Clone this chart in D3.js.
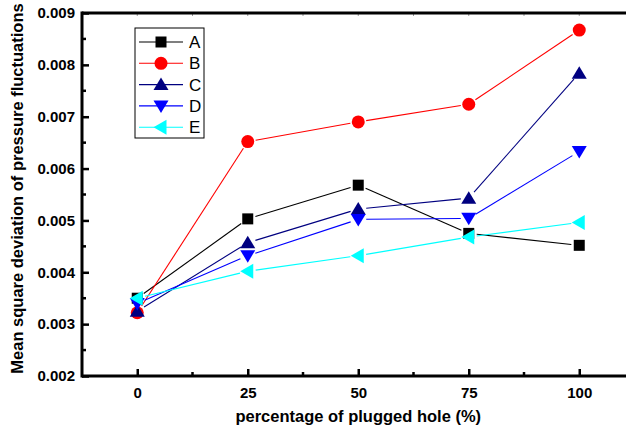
<!DOCTYPE html>
<html>
<head>
<meta charset="utf-8">
<script src="https://cdn.jsdelivr.net/npm/d3@7"></script>
<style>
  body { margin: 0; background: #fff; }
  svg text { font-family: Arial, "Liberation Sans", sans-serif; }
</style>
</head>
<body>
<svg id="chart" width="626" height="429"></svg>
<script>
// data
var xValues = [0, 25, 50, 75, 100];
var seriesNames = ["A", "B", "C", "D", "E"];
var valuesA = [0.00350, 0.00503, 0.00568, 0.00475, 0.00452];
var valuesB = [0.00322, 0.00652, 0.00690, 0.00724, 0.00867];
var valuesC = [0.00325, 0.00457, 0.00522, 0.00543, 0.00784];
var valuesD = [0.00340, 0.00432, 0.00502, 0.00504, 0.00633];
var valuesE = [0.00350, 0.00402, 0.00432, 0.00468, 0.00496];
var yTicks = [0.002, 0.003, 0.004, 0.005, 0.006, 0.007, 0.008, 0.009];

var colors = ["#000000", "#ff0000", "#000080", "#0000ff", "#00ffff"];
var shapes = ["square", "circle", "up", "down", "left"];
var allValues = [valuesA, valuesB, valuesC, valuesD, valuesE];

var svg = d3.select("#chart");
var plotLeft = 82, plotTop = 13, plotBottom = 376;

var x = d3.scaleLinear().domain([-12.5, 112.5]).range([plotLeft, plotLeft + 552.5]);
var y = d3.scaleLinear().domain([0.002, 0.009]).range([plotBottom, plotTop]);

// marker path centred on 0,0
function marker(shape) {
    if (shape == "square") return "M-5.5,-5.5h11v11h-11z";
    if (shape == "circle") return "M-6.5,0a6.5,6.5 0 1,0 13,0a6.5,6.5 0 1,0 -13,0z";
    if (shape == "up") return "M0,-7L7.5,5.5L-7.5,5.5z";
    if (shape == "down") return "M0,7L7.5,-5.5L-7.5,-5.5z";
    return "M-7.5,0L5.5,-7.5L5.5,7.5z"; // left
}

// series: lines with small gaps at the markers, then markers
allValues.forEach(function (vals, s) {
    var g = svg.append("g");
    var pts = vals.map(function (v, i) { return [x(xValues[i]), y(v)]; });
    for (var i = 0; i < pts.length - 1; i++) {
        var a = pts[i], b = pts[i + 1];
        var dx = b[0] - a[0], dy = b[1] - a[1];
        var len = Math.sqrt(dx * dx + dy * dy);
        var gap = 8;
        g.append("line")
            .attr("x1", a[0] + dx / len * gap).attr("y1", a[1] + dy / len * gap)
            .attr("x2", b[0] - dx / len * gap).attr("y2", b[1] - dy / len * gap)
            .attr("stroke", colors[s]).attr("stroke-width", 1.1);
    }
});
allValues.forEach(function (vals, s) {
    svg.append("g").selectAll("path")
        .data(vals)
        .enter()
        .append("path")
        .attr("d", marker(shapes[s]))
        .attr("transform", function (d, i) { return "translate(" + x(xValues[i]) + "," + y(d) + ")"; })
        .attr("fill", colors[s]);
});

// axes
var yAxis = d3.axisLeft(y).tickValues(yTicks).tickFormat(d3.format(".3f")).tickSize(-7).tickPadding(7);
var gy = svg.append("g").attr("transform", "translate(" + plotLeft + ",0)").call(yAxis);
gy.select(".domain").remove();
gy.selectAll(".tick line").attr("stroke-width", 2.5);
gy.selectAll("text").attr("font-size", 15).attr("font-weight", "bold").attr("fill", "#000");

var yMinor = d3.range(0.0025, 0.009, 0.001);
svg.append("g").selectAll("line").data(yMinor).enter().append("line")
    .attr("x1", plotLeft).attr("x2", plotLeft + 4)
    .attr("y1", function (d) { return y(d); }).attr("y2", function (d) { return y(d); })
    .attr("stroke", "#000").attr("stroke-width", 2.5);

var xAxis = d3.axisBottom(x).tickValues(xValues).tickSize(-7).tickPadding(11);
var gx = svg.append("g").attr("transform", "translate(0," + plotBottom + ")").call(xAxis);
gx.select(".domain").remove();
gx.selectAll(".tick line").attr("stroke-width", 2.5);
gx.selectAll("text").attr("font-size", 15).attr("font-weight", "bold").attr("fill", "#000");

var xMinor = [12.5, 37.5, 62.5, 87.5];
svg.append("g").selectAll("line").data(xMinor).enter().append("line")
    .attr("x1", function (d) { return x(d); }).attr("x2", function (d) { return x(d); })
    .attr("y1", plotBottom).attr("y2", plotBottom - 4)
    .attr("stroke", "#000").attr("stroke-width", 2.5);

// top ticks (faint)
svg.append("g").selectAll("line").data(xValues.concat(xMinor)).enter().append("line")
    .attr("x1", function (d) { return x(d); }).attr("x2", function (d) { return x(d); })
    .attr("y1", plotTop).attr("y2", plotTop + 3)
    .attr("stroke", "#999").attr("stroke-width", 1);

// frame lines
svg.append("line").attr("x1", plotLeft).attr("x2", plotLeft).attr("y1", plotTop - 1.5).attr("y2", plotBottom + 1.5)
    .attr("stroke", "#000").attr("stroke-width", 3);
svg.append("line").attr("x1", plotLeft).attr("x2", 640).attr("y1", plotBottom).attr("y2", plotBottom)
    .attr("stroke", "#000").attr("stroke-width", 3);
svg.append("line").attr("x1", plotLeft).attr("x2", 640).attr("y1", plotTop).attr("y2", plotTop)
    .attr("stroke", "#000").attr("stroke-width", 3);

// axis titles
svg.append("text")
    .attr("transform", "translate(23," + ((plotTop + plotBottom) / 2 - 6) + ")rotate(-90)")
    .attr("text-anchor", "middle")
    .attr("font-size", 16.5).attr("font-weight", "bold")
    .text("Mean square deviation of pressure fluctuations");
svg.append("text")
    .attr("x", x(50)).attr("y", 422)
    .attr("text-anchor", "middle")
    .attr("font-size", 16.5).attr("font-weight", "bold")
    .text("percentage of plugged hole (%)");

// legend
var legend = svg.append("g").attr("transform", "translate(135,28)");
legend.append("rect").attr("width", 69).attr("height", 110)
    .attr("fill", "#fff").attr("stroke", "#000").attr("stroke-width", 1);
seriesNames.forEach(function (name, i) {
    var ly = 14 + i * 21.3;
    legend.append("line").attr("x1", 4).attr("x2", 48).attr("y1", ly).attr("y2", ly)
        .attr("stroke", colors[i]).attr("stroke-width", 1.1);
    legend.append("path").attr("d", marker(shapes[i]))
        .attr("transform", "translate(26," + ly + ")")
        .attr("fill", colors[i]);
    legend.append("text").attr("x", 54).attr("y", ly + 6)
        .attr("font-size", 17).text(name);
});
</script>
</body>
</html>
